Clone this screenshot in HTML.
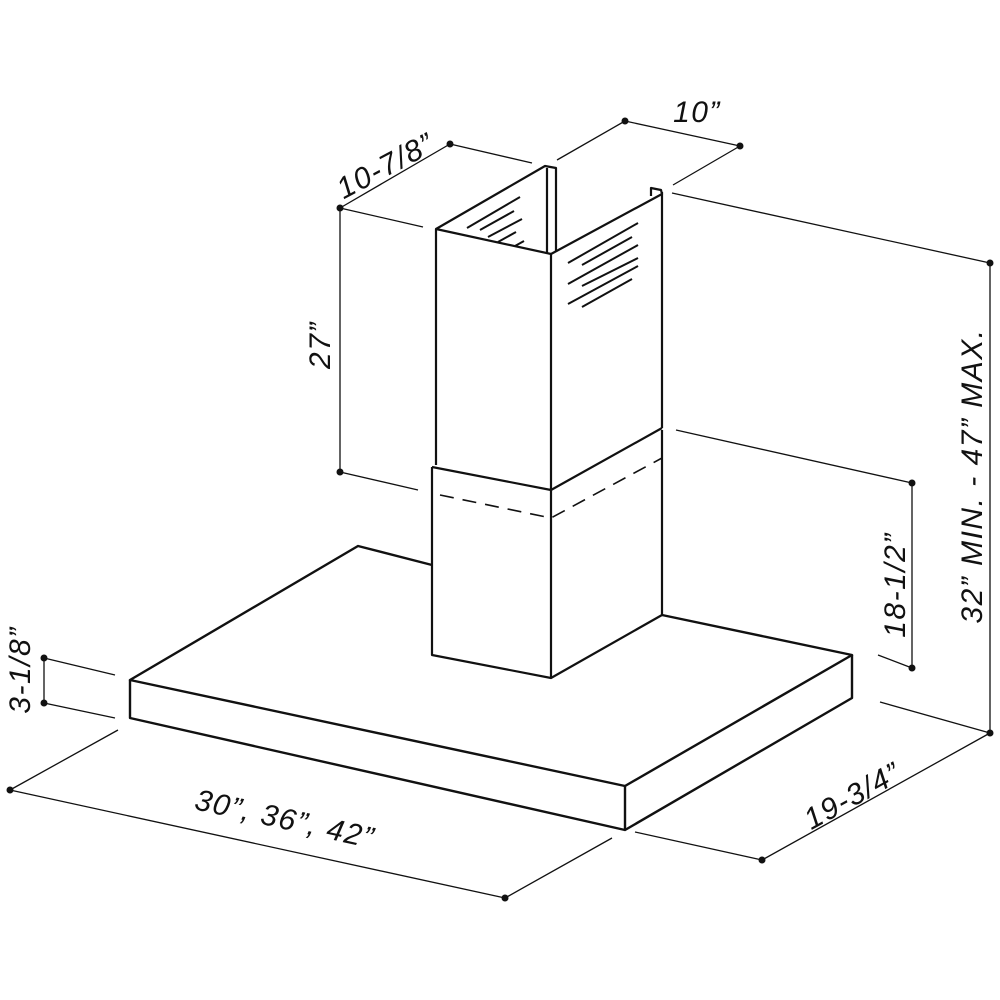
<!DOCTYPE html>
<html><head><meta charset="utf-8"><style>html,body{margin:0;padding:0;background:#fff}svg{display:block}text{font-family:"Liberation Sans",Arial,sans-serif;font-size:30px;font-style:italic;letter-spacing:1.5px;fill:#111}</style></head>
<body>
<svg width="1000" height="1000" viewBox="0 0 1000 1000" xmlns="http://www.w3.org/2000/svg">
<g fill="none" stroke="#111" stroke-linejoin="round">
<g stroke-width="2.4">
<polyline points="432,565 358,546 130,680 625,786 852,655 662,615"/>
<polyline points="130,680 130,718 625,830 852,698 852,655"/>
<line x1="625" y1="786" x2="625" y2="830"/>
</g>
<g stroke-width="2.2">
<polyline points="432,467 432,655 551,678 662,615 662,430"/>
<line x1="551" y1="488" x2="551" y2="678"/>
<polyline points="432,467 551,490 662,428"/>
<polyline points="440,495 551,518 662,458" stroke-dasharray="14,9" stroke-width="1.6"/>
<polyline points="436,465 436,229 551,254 551,490"/>
<line x1="662" y1="192" x2="662" y2="428"/>
<polyline points="436,229 545,166 556,168 556,252"/>
<line x1="547" y1="168" x2="547" y2="253"/>
<polyline points="551,254 662,194 661,190 651,188 651,196"/>
</g>
<g stroke-width="2">
<line x1="467" y1="228" x2="520" y2="197"/>
<line x1="480" y1="230" x2="514" y2="211"/>
<line x1="488" y1="237" x2="522" y2="219"/>
<line x1="498" y1="242" x2="516" y2="232"/>
<line x1="515" y1="246" x2="524" y2="241"/>
<line x1="568" y1="263" x2="638" y2="223"/>
<line x1="582" y1="265" x2="632" y2="237"/>
<line x1="568" y1="284" x2="638" y2="245"/>
<line x1="582" y1="286" x2="638" y2="258"/>
<line x1="568" y1="304" x2="638" y2="266"/>
<line x1="582" y1="307" x2="632" y2="279"/>
</g>
<g stroke-width="1.3">
<line x1="340" y1="208" x2="450" y2="144"/>
<line x1="450" y1="144" x2="532" y2="163"/>
<line x1="340" y1="208" x2="423" y2="227"/>
<line x1="557" y1="160" x2="625" y2="121"/>
<line x1="625" y1="121" x2="740" y2="146"/>
<line x1="740" y1="146" x2="673" y2="185"/>
<line x1="340" y1="208" x2="340" y2="472"/>
<line x1="340" y1="472" x2="418" y2="490"/>
<line x1="672" y1="193" x2="990" y2="263"/>
<line x1="990" y1="263" x2="990" y2="733"/>
<line x1="880" y1="702" x2="990" y2="733"/>
<line x1="676" y1="430" x2="912" y2="483"/>
<line x1="912" y1="483" x2="912" y2="668"/>
<line x1="878" y1="655" x2="912" y2="668"/>
<line x1="44" y1="658" x2="44" y2="703"/>
<line x1="44" y1="658" x2="115" y2="675"/>
<line x1="44" y1="703" x2="115" y2="718"/>
<line x1="10" y1="790" x2="505" y2="898"/>
<line x1="10" y1="790" x2="118" y2="730"/>
<line x1="505" y1="898" x2="612" y2="838"/>
<line x1="635" y1="832" x2="762" y2="860"/>
<line x1="762" y1="860" x2="990" y2="733"/>
</g>
</g>
<g fill="#111">
<circle cx="340" cy="208" r="3.5"/><circle cx="450" cy="144" r="3.5"/>
<circle cx="625" cy="121" r="3.5"/><circle cx="740" cy="146" r="3.5"/>
<circle cx="340" cy="472" r="3.5"/>
<circle cx="990" cy="263" r="3.5"/><circle cx="990" cy="733" r="3.5"/>
<circle cx="912" cy="483" r="3.5"/><circle cx="912" cy="668" r="3.5"/>
<circle cx="44" cy="658" r="3.5"/><circle cx="44" cy="703" r="3.5"/>
<circle cx="10" cy="790" r="3.5"/><circle cx="505" cy="898" r="3.5"/>
<circle cx="762" cy="860" r="3.5"/>
</g>
<text x="385" y="176" text-anchor="middle" transform="rotate(-28 385 165)">10-7/8”</text>
<text x="697" y="122" text-anchor="middle">10”</text>
<text x="318" y="357" text-anchor="middle" transform="rotate(-90 318 345)">27”</text>
<text x="970" y="488" text-anchor="middle" transform="rotate(-90 970 476)">32” MIN. - 47” MAX.</text>
<text x="893" y="597" text-anchor="middle" transform="rotate(-90 893 585)">18-1/2”</text>
<text x="16" y="684" text-anchor="middle" transform="rotate(-90 16 670)">3-1/8”</text>
<text x="285" y="829" text-anchor="middle" transform="rotate(12.5 285 818)">30”, 36”, 42”</text>
<text x="852" y="806" text-anchor="middle" transform="rotate(-29 852 795)">19-3/4”</text>
</svg>
</body></html>
